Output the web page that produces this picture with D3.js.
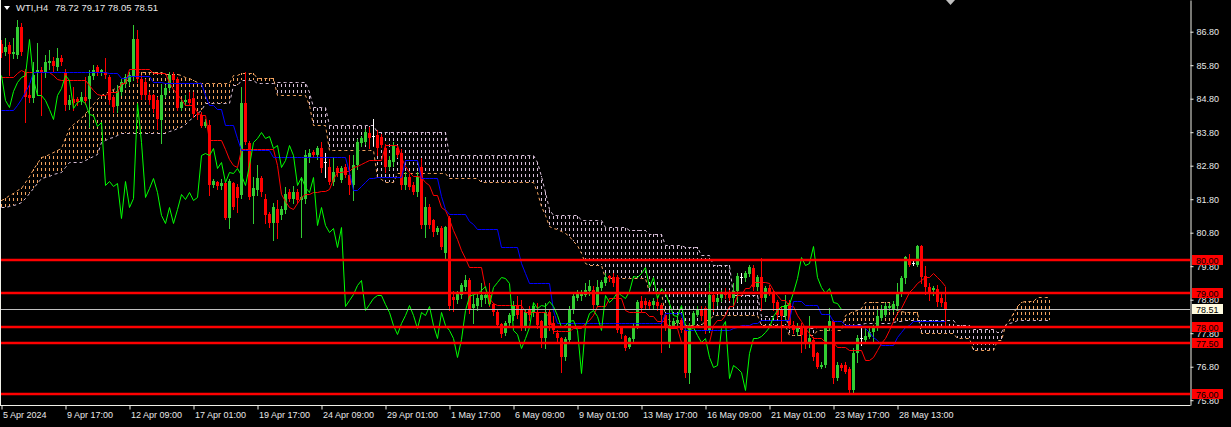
<!DOCTYPE html>
<html><head><meta charset="utf-8">
<script src="https://cdn.jsdelivr.net/npm/d3@7/dist/d3.min.js"></script>
<style>
html,body{margin:0;padding:0;background:#000;overflow:hidden;}
svg{display:block;}
text{font-family:"Liberation Sans",Arial,sans-serif;}
</style></head><body>
<svg id="chart" width="1231" height="427"></svg>
<script>
// ---------------- DATA ----------------
const symbolTitle = "WTI,H4";
const titleValues = "78.72 79.17 78.05 78.51";
const timeLabels = ["5 Apr 2024","9 Apr 17:00","12 Apr 09:00","17 Apr 01:00","19 Apr 17:00","24 Apr 09:00","29 Apr 01:00","1 May 17:00","6 May 09:00","9 May 01:00","13 May 17:00","16 May 09:00","21 May 01:00","23 May 17:00","28 May 13:00"];
const timeLabelBars = [0,16,32,48,64,80,96,112,128,144,160,176,192,208,224];
const priceTicks = [75.8,76.8,77.8,78.8,79.8,80.8,81.8,82.8,83.8,84.8,85.8,86.8];
const levels = [80.00,79.00,78.00,77.50,76.00];
const lastPrice = 78.51;
const chikouShift = 26;

const opens = [
86.42,86.18,86.40,86.12,86.10,86.95,85.60,84.92,84.82,85.60,
85.66,85.58,85.86,85.92,85.75,86.00,85.60,84.60,84.80,84.78,
84.72,84.85,84.80,85.48,85.75,85.60,85.60,85.45,84.85,84.58,
85.00,85.25,85.30,85.45,86.58,85.40,85.30,84.92,84.90,84.75,
84.15,84.92,85.12,85.50,85.38,84.52,84.70,84.78,84.82,84.34,
84.32,83.99,84.02,82.23,82.30,82.18,82.28,81.23,82.27,82.17,
81.92,84.66,83.47,81.90,82.07,82.42,81.82,81.37,81.08,81.52,
81.33,81.48,82.02,81.80,82.02,81.77,81.82,83.05,83.22,83.12,
83.32,82.90,82.77,82.32,82.72,82.37,82.77,82.52,82.22,82.82,
83.47,83.52,83.77,83.70,83.72,83.67,83.32,82.77,82.92,83.32,
83.17,82.22,82.47,82.22,82.02,82.75,81.03,81.58,81.17,80.83,
80.93,80.20,81.23,78.88,78.78,78.93,79.18,79.38,78.55,78.60,
78.78,78.84,78.94,78.66,78.44,78.07,77.80,78.10,78.30,78.64,
78.50,77.95,78.50,78.40,78.44,78.15,77.65,78.44,78.10,77.80,
77.65,77.10,77.60,78.50,78.84,78.90,78.95,79.05,79.09,78.64,
79.15,79.30,79.50,79.49,79.49,77.95,77.72,77.40,77.63,78.00,
78.76,78.76,78.72,78.64,78.72,78.64,78.34,77.50,78.00,78.10,
78.20,77.90,76.60,78.05,78.35,78.50,78.54,77.90,78.94,78.72,
78.84,79.00,79.02,78.84,79.06,79.49,79.44,79.56,79.76,79.19,
79.49,78.84,79.14,79.04,78.72,78.50,78.30,78.70,78.05,77.85,
78.00,77.98,77.55,77.60,77.20,76.80,76.85,77.95,78.15,76.45,
76.85,76.85,76.73,76.10,77.20,77.65,77.60,77.70,77.85,77.95,
78.25,78.35,78.55,78.52,78.62,79.00,79.45,80.00,79.90,79.84,
80.39,79.50,79.17,79.10,79.13,78.84,78.72];
const highs = [
86.55,86.60,86.50,86.60,87.15,87.05,85.70,85.20,85.90,86.45,
85.75,86.10,86.25,86.05,86.30,86.10,85.70,84.90,85.15,84.85,
85.00,85.45,85.65,85.80,85.82,85.70,86.00,85.50,84.90,85.20,
85.40,85.55,85.60,87.00,86.85,85.50,85.40,85.00,84.95,84.85,
85.25,85.20,85.60,85.60,85.45,84.80,84.90,84.99,85.00,84.40,
84.40,84.20,84.15,82.40,82.35,82.40,82.30,82.40,82.30,82.25,
85.16,85.60,83.55,82.47,82.82,82.50,81.97,81.42,81.68,81.77,
81.60,82.17,82.10,82.20,82.10,82.47,83.27,83.30,83.28,83.40,
83.52,83.17,83.00,83.07,82.80,82.80,82.85,83.12,83.12,83.60,
83.70,83.90,83.96,84.20,83.87,83.75,83.45,83.10,83.50,83.40,
83.30,82.60,82.55,82.30,82.60,83.02,81.87,81.65,81.20,81.00,
81.00,81.00,81.30,79.05,79.05,79.30,79.55,79.45,78.94,79.00,
79.30,79.00,79.30,78.70,78.50,78.10,78.15,78.40,78.75,78.90,
78.80,78.50,78.60,78.70,78.70,78.20,78.70,78.50,78.30,77.90,
77.70,77.70,78.60,79.00,79.10,79.10,79.30,79.40,79.20,79.40,
79.40,79.60,79.55,79.60,79.55,78.00,77.75,77.70,78.10,78.80,
78.90,78.85,78.80,78.85,78.90,78.70,78.40,78.50,78.25,78.30,
78.25,78.00,78.10,78.45,78.60,78.60,78.60,79.30,79.00,78.95,
79.10,79.15,79.10,79.30,79.60,79.60,79.65,79.85,79.85,79.55,
80.03,79.20,79.25,79.10,78.80,78.60,78.95,78.80,78.15,78.10,
78.10,78.00,78.30,77.70,77.25,76.95,78.00,78.55,78.20,76.95,
76.90,76.95,76.80,77.35,77.75,78.00,77.95,77.95,78.05,78.50,
78.65,78.70,78.70,78.75,79.30,79.50,80.10,80.15,80.00,80.42,
80.43,79.80,79.30,79.20,79.25,79.00,79.17];
const lows = [
86.05,86.10,85.50,86.00,86.00,86.10,84.10,84.70,84.70,84.90,
84.30,85.45,85.70,85.62,85.65,85.80,84.45,84.50,84.45,84.60,
84.65,84.65,83.97,85.40,85.50,85.50,85.42,84.65,84.40,84.40,
84.90,85.15,85.20,85.35,85.30,84.80,84.80,84.65,84.40,83.90,
83.47,84.85,85.05,85.30,84.45,84.45,84.60,84.60,84.25,84.20,
83.95,83.95,81.93,82.15,82.10,82.10,81.20,80.93,81.50,81.43,
81.85,83.45,81.80,81.08,81.92,81.90,81.08,80.98,80.58,80.63,
81.20,81.38,81.75,81.70,81.70,80.68,81.70,82.90,83.05,83.00,
82.60,82.47,82.25,82.22,82.50,82.30,82.45,81.97,81.77,82.70,
83.40,83.45,83.32,83.42,83.12,83.35,82.60,82.70,82.80,83.05,
82.10,82.10,82.10,81.95,81.90,80.95,80.68,80.95,80.70,80.75,
80.30,80.00,78.50,78.45,78.70,78.85,79.10,78.40,78.10,78.50,
78.60,78.70,78.60,78.35,78.00,77.70,77.75,78.00,78.20,78.25,
77.90,77.90,78.20,78.30,77.95,77.40,77.35,77.90,77.80,77.50,
76.65,77.00,77.55,78.40,78.80,78.80,78.90,78.95,78.55,78.60,
79.10,79.25,79.35,79.20,77.85,77.65,77.30,77.35,77.55,77.95,
78.45,78.55,78.55,78.55,78.50,77.25,77.90,77.40,77.95,78.05,
77.85,76.50,76.30,78.00,78.30,78.20,77.80,77.85,78.45,78.65,
78.75,78.85,78.80,78.60,78.75,79.30,79.35,79.50,79.10,79.10,
78.50,78.75,78.95,78.50,78.25,77.55,78.20,77.95,77.80,77.75,
77.25,77.35,77.40,77.00,76.75,76.75,76.80,77.90,76.30,76.40,
76.70,76.60,76.00,76.05,76.95,77.45,77.50,77.65,77.55,77.90,
78.20,78.30,78.50,78.45,78.50,78.90,79.30,79.80,79.85,79.80,
79.30,78.98,78.80,78.95,78.60,78.60,78.05];
const closes = [
86.17,86.35,86.12,86.18,86.95,86.20,84.85,84.82,85.50,85.66,
85.56,85.90,85.92,85.78,86.02,85.90,84.60,84.75,84.66,84.70,
84.85,84.73,85.48,85.65,85.60,85.65,85.50,84.77,84.55,85.02,
85.30,85.45,85.50,86.58,85.40,84.90,84.92,84.76,84.50,84.20,
84.92,85.12,85.50,85.36,84.52,84.70,84.76,84.68,84.33,84.30,
83.99,84.10,82.23,82.33,82.18,82.28,81.23,82.33,81.58,81.83,
84.66,83.52,81.87,82.12,82.42,82.02,81.33,81.08,81.58,81.08,
81.52,81.97,81.82,82.02,81.77,81.87,83.12,83.17,83.12,83.32,
82.72,82.90,82.32,82.62,82.57,82.72,82.52,82.22,82.82,83.52,
83.62,83.82,83.62,83.70,83.32,83.42,82.77,82.97,83.42,83.12,
82.22,82.47,82.17,82.02,82.47,81.03,81.58,81.03,80.83,80.93,
80.38,80.98,78.60,78.78,78.98,79.23,79.38,78.50,78.66,78.86,
78.94,78.94,78.66,78.44,78.05,77.77,78.10,78.35,78.64,78.34,
77.95,78.44,78.34,78.60,78.05,77.65,78.44,78.05,77.90,77.65,
77.10,77.63,78.50,78.90,78.96,78.99,79.09,79.20,78.64,79.19,
79.34,79.49,79.44,79.29,77.90,77.77,77.37,77.65,78.00,78.74,
78.54,78.64,78.62,78.76,78.60,78.34,78.00,78.05,78.15,78.20,
77.90,76.60,78.05,78.40,78.50,78.30,77.90,78.94,78.72,78.86,
79.02,78.95,78.86,79.06,79.52,79.49,79.59,79.79,79.19,79.49,
78.84,79.14,79.00,78.69,78.34,78.30,78.64,78.05,77.90,78.00,
77.75,77.55,77.65,77.10,76.80,76.85,77.95,78.15,76.45,76.85,
76.75,76.65,76.10,77.20,77.65,77.65,77.73,77.85,78.00,78.30,
78.50,78.60,78.60,78.66,79.02,79.45,80.07,79.84,79.90,80.39,
79.47,79.17,78.99,79.15,78.73,78.69,78.51];

const tenkan = [
85.46,85.46,85.46,85.46,85.56,85.66,85.61,85.61,85.61,85.61,
85.61,85.61,85.61,85.50,85.40,85.36,85.36,85.36,85.36,85.36,
85.36,85.36,85.20,85.05,84.95,84.91,84.91,85.01,85.01,85.01,
85.26,85.26,85.69,85.69,85.69,85.69,85.69,85.69,85.56,85.56,
85.56,85.56,85.30,85.10,84.95,84.80,84.61,84.61,84.61,84.41,
84.31,84.31,83.57,83.57,83.57,83.57,83.30,83.00,82.82,82.77,
83.29,83.29,83.29,83.29,83.29,83.29,83.29,83.29,83.29,82.82,
81.97,81.75,81.57,81.52,81.70,81.87,81.97,81.97,82.02,82.02,
82.05,82.05,82.10,82.40,82.60,82.62,82.65,82.65,82.75,82.80,
82.85,82.90,82.97,82.97,82.97,82.97,83.41,83.41,83.41,83.41,
83.05,82.80,82.60,82.50,82.50,82.47,82.30,82.22,81.92,81.92,
81.57,81.47,81.20,80.88,80.60,80.28,80.05,79.78,79.78,79.78,
79.78,79.14,78.84,78.69,78.64,78.64,78.64,78.64,78.64,78.64,
78.64,78.44,78.44,78.44,78.44,78.44,78.44,78.29,77.88,77.88,
77.88,77.88,77.88,77.95,77.95,77.95,78.10,78.20,78.34,78.60,
78.60,78.60,78.84,78.84,78.84,78.84,78.50,78.44,78.44,78.44,
78.44,78.44,78.30,78.30,78.15,78.15,78.15,77.95,77.95,77.95,
77.55,77.55,77.55,77.55,77.55,77.55,77.55,77.55,78.05,78.20,
78.20,78.34,78.60,78.60,78.94,78.94,79.14,79.14,79.34,79.34,
79.34,79.34,79.29,79.10,78.94,78.80,78.80,78.60,78.60,78.34,
78.15,77.95,77.80,77.65,77.65,77.65,77.55,77.55,77.55,77.40,
77.40,77.40,77.30,77.30,77.30,77.30,77.00,77.00,77.10,77.30,
77.50,77.65,77.90,78.15,78.40,78.54,78.80,79.04,79.15,79.29,
79.40,79.49,79.49,79.59,79.49,79.35,79.20];
const kijun = [
84.46,84.46,84.46,84.46,84.60,84.80,85.00,85.25,85.61,85.61,
85.61,85.61,85.61,85.61,85.61,85.61,85.61,85.61,85.61,85.61,
85.61,85.61,85.61,85.61,85.61,85.61,85.61,85.56,85.56,85.56,
85.41,85.41,85.48,85.48,85.48,85.48,85.48,85.48,85.31,85.31,
85.31,85.26,85.26,85.26,85.26,85.26,85.26,85.26,85.26,85.26,
85.26,84.90,84.61,84.61,84.48,84.48,84.02,84.02,84.02,83.62,
83.27,83.27,83.27,83.27,83.27,83.27,83.27,83.27,83.05,83.05,
83.05,83.05,83.05,83.05,83.05,83.05,83.05,83.05,83.05,83.05,
83.05,83.05,83.05,83.05,83.05,83.05,83.05,82.60,82.07,82.07,
82.20,82.30,82.42,82.42,82.45,82.45,82.45,82.45,82.45,82.45,
82.45,82.98,82.98,82.98,82.98,82.42,82.42,82.42,82.42,82.42,
81.90,81.50,81.36,81.36,81.36,81.36,81.36,81.15,81.05,80.90,
80.90,80.90,80.90,80.90,80.90,80.36,80.36,80.36,80.36,80.36,
79.90,79.60,79.29,79.29,79.29,79.29,79.29,79.29,78.50,78.10,
78.10,78.10,78.10,78.10,78.10,78.10,78.10,78.10,78.10,78.10,
78.10,78.10,78.10,78.10,78.10,78.10,78.10,78.10,78.10,78.10,
78.10,78.10,78.10,78.10,78.10,78.10,78.40,78.40,78.40,78.40,
78.40,77.90,77.90,77.90,77.90,77.90,77.90,77.90,77.90,77.90,
77.90,77.90,77.90,77.95,78.00,78.05,78.05,78.05,78.10,78.10,
78.20,78.20,78.20,78.20,78.20,78.20,78.20,78.20,78.75,78.75,
78.75,78.65,78.65,78.65,78.65,78.36,78.36,78.36,78.17,78.17,
78.17,78.05,78.05,78.05,78.05,78.05,77.95,77.85,77.70,77.60,
77.45,77.45,77.45,77.45,77.70,77.85,78.00,78.05,78.17,78.17,
78.17,78.17,78.17,78.17,78.17,78.17,78.17];
const spanA = [
81.78,81.85,81.92,81.99,82.06,82.13,82.30,82.50,82.70,82.88,
83.06,83.10,83.15,83.20,83.27,83.33,83.63,83.93,84.03,84.12,
84.22,84.36,84.50,84.64,84.78,84.91,84.97,85.03,85.09,85.15,
85.21,85.31,85.41,85.51,85.60,85.60,85.60,85.60,85.60,85.60,
85.60,85.55,85.55,85.55,85.55,85.51,85.46,85.41,85.36,85.31,
85.27,85.27,85.27,85.27,85.27,85.27,85.27,85.27,85.51,85.51,
85.57,85.57,85.57,85.57,85.42,85.42,85.42,85.42,85.42,84.91,
84.91,84.91,84.91,84.91,84.91,84.91,84.91,84.60,84.01,84.01,
84.01,84.01,83.27,83.27,83.27,83.27,83.27,83.27,83.27,83.27,
83.27,83.27,83.27,83.27,82.46,82.40,82.31,82.31,82.31,82.58,
82.58,82.58,82.58,82.58,82.58,82.58,82.58,82.58,82.58,82.58,
82.58,82.58,82.43,82.43,82.43,82.43,82.43,82.43,82.43,82.43,
82.30,82.30,82.30,82.30,82.30,82.30,82.30,82.30,82.30,82.30,
82.30,82.30,82.30,82.30,82.00,81.60,81.33,81.00,80.94,80.90,
80.85,80.80,80.70,80.55,80.43,80.20,79.90,79.84,79.84,79.84,
79.84,79.45,79.45,79.45,79.45,79.45,79.45,79.45,79.45,79.45,
79.45,79.45,79.03,79.03,79.03,79.03,78.30,78.20,78.10,78.10,
78.10,78.04,78.04,78.04,78.04,78.04,78.20,78.20,78.34,78.34,
78.34,78.34,78.34,78.34,78.34,78.34,78.34,78.34,78.34,78.34,
78.04,78.04,78.04,78.04,78.04,78.04,78.04,77.74,77.74,77.74,
77.74,77.74,77.74,77.74,77.90,77.90,77.90,77.90,77.90,77.90,
77.90,78.34,78.40,78.45,78.50,78.55,78.73,78.73,78.73,78.73,
78.73,78.73,78.73,78.55,78.50,78.45,78.43,78.43,78.43,78.43,
77.80,77.80,77.80,77.80,77.80,77.80,77.80,77.80,77.80,77.65,
77.65,77.65,77.65,77.29,77.29,77.29,77.29,77.29,77.29,77.59,
77.59,78.05,78.20,78.40,78.60,78.73,78.76,78.76,78.76,78.88,
78.88,78.88,78.88];
const spanB = [
81.56,81.58,81.60,81.63,81.66,81.71,81.85,81.99,82.13,82.28,
82.43,82.47,82.50,82.54,82.58,82.61,82.76,82.91,82.91,82.91,
82.91,82.97,83.03,83.09,83.15,83.51,83.56,83.62,83.67,83.73,
83.78,83.78,83.78,83.78,83.78,83.78,83.78,83.78,83.78,83.78,
83.78,83.78,83.83,83.88,83.92,83.95,84.05,84.15,84.25,84.36,
84.46,84.67,84.67,84.67,84.67,84.67,84.67,84.67,85.21,85.21,
85.36,85.36,85.36,85.36,85.27,85.27,85.27,85.27,85.27,85.30,
85.30,85.30,85.30,85.30,85.30,85.30,85.30,85.00,84.55,84.55,
84.55,84.55,84.01,84.01,84.01,84.01,84.01,84.01,84.01,84.01,
84.01,84.01,84.01,84.01,83.81,83.81,83.81,83.81,83.81,83.81,
83.81,83.81,83.81,83.81,83.81,83.81,83.81,83.81,83.81,83.81,
83.81,83.81,83.12,83.12,83.12,83.12,83.12,83.12,83.12,83.12,
83.12,83.12,83.12,83.12,83.12,83.12,83.12,83.12,83.12,83.12,
83.12,83.12,83.12,83.12,82.90,82.50,82.00,81.50,81.33,81.33,
81.33,81.33,81.33,81.33,81.33,81.18,81.18,81.18,81.18,81.18,
81.18,80.97,80.97,80.97,80.97,80.97,80.97,80.88,80.88,80.88,
80.88,80.88,80.75,80.75,80.75,80.75,80.43,80.43,80.43,80.43,
80.43,80.37,80.37,80.37,80.37,80.13,80.13,80.13,79.84,79.84,
79.84,79.84,79.84,78.94,78.94,78.94,78.94,78.94,78.94,78.94,
78.30,78.30,78.30,78.30,78.30,78.30,78.30,77.95,77.95,77.95,
77.95,77.95,77.95,77.95,78.00,78.00,78.00,78.00,78.00,78.00,
78.00,78.04,78.04,78.04,78.06,78.08,78.10,78.10,78.10,78.10,
78.10,78.10,78.10,78.13,78.15,78.17,78.19,78.19,78.19,78.19,
78.19,78.19,78.19,78.19,78.19,78.19,78.19,78.19,78.19,78.04,
78.04,78.04,78.04,77.92,77.92,77.92,77.92,77.92,77.92,77.85,
77.85,78.04,78.10,78.13,78.19,78.19,78.19,78.19,78.19,78.19,
78.19,78.19,78.19];

// ---------------- CHART ----------------
const W = 1231, H = 427, plotRight = 1190, plotBottom = 405;
const C = {bg:"#000000", up:"#32CD32", down:"#FF0000", doji:"#FFFFFF", tenkan:"#FF0000", kijun:"#0000FF",
  chikou:"#00FF00", spanA:"#F4A460", spanB:"#D8BFD8", level:"#FF0000", bid:"#C0C0C0", axis:"#F0F0E8", text:"#E8E8E8"};

const x = d3.scaleLinear().domain([-0.25, 297.25]).range([0, plotRight]);
const y = d3.scaleLinear().domain([75.657, 87.746]).range([plotBottom, 0]);
const px = i => Math.round(x(i));

const svg = d3.select("#chart");
svg.append("rect").attr("width", W).attr("height", H).attr("fill", C.bg);
svg.append("defs").append("clipPath").attr("id", "clip")
  .append("rect").attr("x", 0).attr("y", 0).attr("width", plotRight).attr("height", plotBottom);
const plot = svg.append("g").attr("clip-path", "url(#clip)");

// Ichimoku cloud hatch
const cloudIdx = d3.range(spanA.length);
plot.append("g").selectAll("line").data(cloudIdx).join("line")
  .attr("x1", i => px(i) + 0.5).attr("x2", i => px(i) + 0.5)
  .attr("y1", i => Math.round(y(Math.max(spanA[i], spanB[i]))))
  .attr("y2", i => Math.round(y(Math.min(spanA[i], spanB[i]))))
  .attr("stroke", i => spanA[i] >= spanB[i] ? C.spanA : C.spanB)
  .attr("stroke-width", 1)
  .attr("stroke-dasharray", "3,3")
  .attr("stroke-dashoffset", i => Math.round(y(Math.max(spanA[i], spanB[i]))) % 6);

const lineGen = d3.line().x((d, i) => px(i) + 0.5).y(d => Math.round(y(d)) + 0.5);
plot.append("path").attr("d", lineGen(spanA)).attr("fill", "none")
  .attr("stroke", C.spanA).attr("stroke-width", 1).attr("stroke-dasharray", "3,3");
plot.append("path").attr("d", lineGen(spanB)).attr("fill", "none")
  .attr("stroke", C.spanB).attr("stroke-width", 1).attr("stroke-dasharray", "3,3");

// Candles
const bars = d3.range(opens.length);
const isDoji = i => Math.abs(opens[i] - closes[i]) < 0.015;
const col = i => isDoji(i) ? C.doji : (closes[i] > opens[i] ? C.up : C.down);
const cg = plot.append("g").attr("shape-rendering", "crispEdges");
cg.selectAll("line").data(bars).join("line")
  .attr("x1", i => px(i) + 0.5).attr("x2", i => px(i) + 0.5)
  .attr("y1", i => Math.round(y(highs[i]))).attr("y2", i => Math.round(y(lows[i])) + 1)
  .attr("stroke", col).attr("stroke-width", 1);
cg.selectAll("rect").data(bars).join("rect")
  .attr("x", i => px(i) - 1)
  .attr("width", 3)
  .attr("y", i => Math.round(y(Math.max(opens[i], closes[i]))))
  .attr("height", i => Math.max(1, Math.round(y(Math.min(opens[i], closes[i]))) - Math.round(y(Math.max(opens[i], closes[i])))))
  .attr("fill", col);

// Tenkan, Kijun, Chikou
plot.append("path").attr("d", lineGen(tenkan)).attr("fill", "none").attr("stroke", C.tenkan).attr("stroke-width", 1);
plot.append("path").attr("d", lineGen(kijun)).attr("fill", "none").attr("stroke", C.kijun).attr("stroke-width", 1);
plot.append("path").attr("d", lineGen(closes.slice(chikouShift))).attr("fill", "none").attr("stroke", C.chikou).attr("stroke-width", 1);

// Bid line + horizontal levels
plot.append("line").attr("x1", 0).attr("x2", plotRight)
  .attr("y1", Math.round(y(lastPrice)) + 0.5).attr("y2", Math.round(y(lastPrice)) + 0.5)
  .attr("stroke", C.bid).attr("stroke-width", 1);
plot.selectAll("line.level").data(levels).join("line").attr("class", "level")
  .attr("x1", 0).attr("x2", plotRight)
  .attr("y1", d => Math.round(y(d))).attr("y2", d => Math.round(y(d)))
  .attr("stroke", C.level).attr("stroke-width", 2.4);

// Left border
svg.append("line").attr("x1", 0.5).attr("x2", 0.5).attr("y1", 0).attr("y2", plotBottom)
  .attr("stroke", C.axis).attr("stroke-width", 1);

// Axes
const yAxis = d3.axisRight(y).tickValues(priceTicks).tickSize(3).tickSizeOuter(0).tickPadding(3)
  .tickFormat(d3.format(".2f"));
const ya = svg.append("g").attr("transform", `translate(${plotRight + 0.5},0)`).call(yAxis);
ya.select(".domain").attr("stroke", C.axis);
ya.selectAll(".tick line").attr("stroke", C.axis);
ya.selectAll(".tick text").attr("fill", C.text).attr("font-size", 9)
  .attr("font-family", "Liberation Sans, Arial, sans-serif");

const xAxis = d3.axisBottom(x).tickValues(timeLabelBars).tickSize(4).tickSizeOuter(0).tickPadding(2)
  .tickFormat((d, i) => timeLabels[i]);
const xa = svg.append("g").attr("transform", `translate(0.5,${plotBottom + 0.5})`).call(xAxis);
xa.select(".domain").attr("stroke", C.axis).attr("d", `M-0.5,0H${plotRight}`);
xa.selectAll(".tick line").attr("stroke", C.axis);
xa.selectAll(".tick text").attr("fill", C.text).attr("font-size", 9)
  .attr("font-family", "Liberation Sans, Arial, sans-serif")
  .attr("text-anchor", "start").attr("x", 1);

// Level labels on price scale
const lab = svg.append("g");
lab.selectAll("rect.lv").data(levels).join("rect").attr("class", "lv")
  .attr("x", plotRight + 2).attr("width", 31)
  .attr("y", d => Math.round(y(d)) - 5).attr("height", 10)
  .attr("fill", C.level);
lab.selectAll("text.lv").data(levels).join("text").attr("class", "lv")
  .attr("x", plotRight + 6).attr("y", d => Math.round(y(d)) + 3.5)
  .attr("font-size", 9).attr("fill", "#000").text(d => d3.format(".2f")(d));
lab.append("rect").attr("x", plotRight + 2).attr("width", 31)
  .attr("y", Math.round(y(lastPrice)) - 5).attr("height", 10).attr("fill", "#FFFBE0");
lab.append("text").attr("x", plotRight + 6).attr("y", Math.round(y(lastPrice)) + 3.5)
  .attr("font-size", 9).attr("fill", "#000").text(d3.format(".2f")(lastPrice));

// Title
svg.append("path").attr("d", "M4,6L10,6L7,10Z").attr("fill", "#FFFFFF");
svg.append("text").attr("x", 16).attr("y", 11).attr("font-size", 9.5).attr("fill", C.text).text(symbolTitle);
svg.append("text").attr("x", 55).attr("y", 11).attr("font-size", 9.5).attr("fill", C.text).text(titleValues);

// Chart shift marker
const sx = x(opens.length - 1) + 5.5;
svg.append("path").attr("d", `M${sx - 4.5},0L${sx + 4.5},0L${sx},5Z`).attr("fill", C.bid);
</script>
</body></html>
